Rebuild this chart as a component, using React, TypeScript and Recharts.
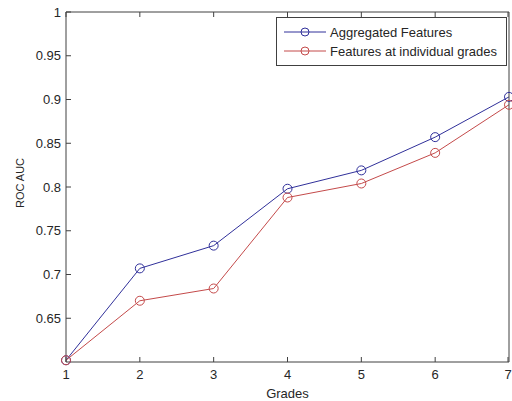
import { LineChart, Line, XAxis, YAxis, Legend } from 'recharts';

const grades = [1, 2, 3, 4, 5, 6, 7];
const aggregated = [0.602, 0.707, 0.733, 0.798, 0.819, 0.857, 0.903];
const individual = [0.602, 0.670, 0.684, 0.788, 0.804, 0.839, 0.894];
const yTicks = [0.65, 0.7, 0.75, 0.8, 0.85, 0.9, 0.95, 1];

const data = grades.map((g, i) => ({ grade: g, agg: aggregated[i], ind: individual[i] }));

const AXIS = '#404040';
const TEXT = '#262626';
const BLUE = '#30309a';
const RED = '#c44a4a';
const FONT = '"Liberation Sans", Arial, sans-serif';

function LeftTick({ x, y, payload }: any) {
  return (
    <g>
      <line x1={x} x2={x + 5} y1={y} y2={y} stroke={AXIS} />
      <text x={x - 5} y={y} textAnchor="end" dominantBaseline="central" fontSize={13} fill={TEXT} fontFamily={FONT}>
        {payload.value}
      </text>
    </g>
  );
}

function BottomTick({ x, y, payload }: any) {
  return (
    <g>
      <line x1={x} x2={x} y1={y} y2={y - 5} stroke={AXIS} />
      <text x={x} y={y + 17} textAnchor="middle" fontSize={13} fill={TEXT} fontFamily={FONT}>
        {payload.value}
      </text>
    </g>
  );
}

function TopTick({ x, y }: any) {
  return <line x1={x} x2={x} y1={y} y2={y + 5} stroke={AXIS} />;
}

function RightTick({ x, y }: any) {
  return <line x1={x} x2={x - 5} y1={y} y2={y} stroke={AXIS} />;
}

// y label centred on the plot height, rotated
function YLabel({ viewBox }: any) {
  const cx = 20;
  const cy = viewBox.y + viewBox.height / 2 - 4;
  return (
    <text x={cx} y={cy} transform={`rotate(-90, ${cx}, ${cy})`} textAnchor="middle" dominantBaseline="central" fontSize={11} fill={TEXT} fontFamily={FONT}>
      ROC AUC
    </text>
  );
}

function LegendBox({ payload }: any) {
  return (
    <div style={{ width: 229, height: 42, border: `1px solid ${AXIS}`, background: '#fff', fontFamily: FONT, fontSize: 13, color: TEXT, paddingTop: 5, boxSizing: 'content-box' }}>
      {(payload || []).map((p: any) => (
        <div key={p.value} style={{ display: 'flex', alignItems: 'center', height: 18, marginBottom: 1 }}>
          <svg width={53} height={12} style={{ display: 'block' }}>
            <line x1={7} x2={49} y1={6} y2={6} stroke={p.color} />
            <circle cx={28} cy={6} r={4} fill="none" stroke={p.color} />
          </svg>
          <span>{p.value}</span>
        </div>
      ))}
    </div>
  );
}

export default function App() {
  return (
    <div style={{ position: 'fixed', left: 0, top: 0, width: 512, height: 401, background: '#fff' }}>
      <LineChart width={512} height={401} data={data} margin={{ top: 11, right: 2, left: 0, bottom: 0 }}>
        <XAxis
          dataKey="grade"
          type="number"
          domain={[1, 7]}
          ticks={grades}
          height={39}
          tickSize={0}
          tickMargin={0}
          stroke={AXIS}
          tick={<BottomTick />}
          label={{ value: 'Grades', position: 'insideBottom', offset: 3, fontSize: 13, fill: TEXT, fontFamily: FONT }}
        />
        <XAxis
          xAxisId="top"
          orientation="top"
          dataKey="grade"
          type="number"
          domain={[1, 7]}
          ticks={grades}
          height={1}
          tickSize={0}
          tickMargin={0}
          stroke={AXIS}
          tick={<TopTick />}
        />
        <YAxis
          type="number"
          domain={[0.6, 1]}
          ticks={yTicks}
          width={66}
          tickSize={0}
          tickMargin={0}
          stroke={AXIS}
          tick={<LeftTick />}
          label={<YLabel />}
        />
        <YAxis
          yAxisId="right"
          orientation="right"
          type="number"
          domain={[0.6, 1]}
          ticks={yTicks}
          width={1}
          tickSize={0}
          tickMargin={0}
          stroke={AXIS}
          tick={<RightTick />}
        />
        <Legend
          layout="horizontal"
          verticalAlign="middle"
          align="center"
          content={<LegendBox />}
          wrapperStyle={{ position: 'absolute', left: 276, top: 17, width: 231, height: 44 }}
        />
        <Line
          dataKey="agg"
          name="Aggregated Features"
          stroke={BLUE}
          strokeWidth={1}
          dot={{ r: 4.5, fill: 'none', stroke: BLUE, strokeWidth: 1 }}
          isAnimationActive={false}
        />
        <Line
          dataKey="ind"
          name="Features at individual grades"
          stroke={RED}
          strokeWidth={1}
          dot={{ r: 4.5, fill: 'none', stroke: RED, strokeWidth: 1 }}
          isAnimationActive={false}
        />
      </LineChart>
    </div>
  );
}
